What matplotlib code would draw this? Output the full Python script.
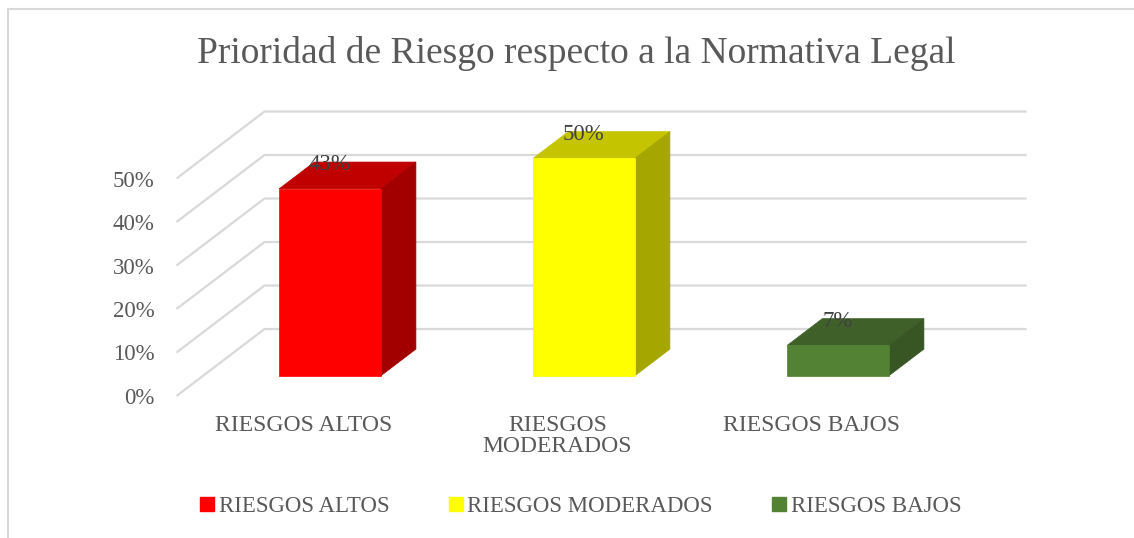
import matplotlib
matplotlib.use("Agg")
import matplotlib.pyplot as plt
from matplotlib.patches import Polygon, Rectangle
from matplotlib.lines import Line2D

plt.rcParams['font.family'] = ['Liberation Serif', 'DejaVu Serif']

# data
categories = ['RIESGOS ALTOS', 'RIESGOS\nMODERADOS', 'RIESGOS BAJOS']
legend_names = ['RIESGOS ALTOS', 'RIESGOS MODERADOS', 'RIESGOS BAJOS']
values = [43, 50, 7]
value_labels = ['43%', '50%', '7%']
y_ticks = [0, 10, 20, 30, 40, 50]
y_tick_labels = ['0%', '10%', '20%', '30%', '40%', '50%']

front_col = ['#FF0000', '#FFFF00', '#548235']
top_col = ['#C00000', '#C4C400', '#3F6129']
side_col = ['#A20000', '#A6A600', '#375623']
grid_col = '#D9D9D9'
text_col = '#595959'

# fake 3d: depth offset of the back wall in data units
ddx, ddy = 0.3465, 15.4
bar_w = 0.40
d0, d1 = 0.3, 0.7   # bar starts/ends at this fraction of depth

fig = plt.figure(figsize=(11.34, 5.38), dpi=100)
ax = fig.add_axes([176.5 / 1134, 1 - 396 / 538, 889 / 1134, 304.5 / 538])
ax.set_xlim(-0.5, 3.0)
ax.set_ylim(0, 70)
for s in ax.spines.values():
    s.set_visible(False)

# left wall + back wall gridlines
for t in y_ticks:
    ax.plot([-0.5, -0.5 + ddx, 2.5 + ddx], [t, t + ddy, t + ddy],
            color=grid_col, lw=1.6, zorder=1, clip_on=False, solid_capstyle='butt')

xs = list(range(len(values)))
for i, v in enumerate(values):
    x0 = xs[i] - bar_w / 2 + d0 * ddx
    y0 = d0 * ddy
    ox = (d1 - d0) * ddx
    oy = (d1 - d0) * ddy
    x1 = x0 + bar_w
    top = [(x0, y0 + v), (x1, y0 + v), (x1 + ox, y0 + v + oy), (x0 + ox, y0 + v + oy)]
    side = [(x1, y0), (x1 + ox, y0 + oy), (x1 + ox, y0 + v + oy), (x1, y0 + v)]
    ax.add_patch(Polygon(top, closed=True, fc=top_col[i], ec=top_col[i], lw=0.5, zorder=2, clip_on=False))
    ax.add_patch(Polygon(side, closed=True, fc=side_col[i], ec=side_col[i], lw=0.5, zorder=2, clip_on=False))

ax.bar([x + d0 * ddx for x in xs], values, width=bar_w, bottom=d0 * ddy,
       color=front_col, edgecolor=front_col, lw=0.5, zorder=3, clip_on=False)

for i, v in enumerate(values):
    ax.text(xs[i] + d0 * ddx, v + d1 * ddy - 0.6, value_labels[i], ha='center', va='center',
            fontsize=16.5, color='#404040', zorder=5)

ax.set_yticks(y_ticks)
ax.set_yticklabels(y_tick_labels)
ax.set_xticks(xs)
ax.set_xticklabels(categories, linespacing=1.0)
ax.tick_params(axis='y', length=0, pad=16, labelsize=16.5, labelcolor=text_col)
ax.tick_params(axis='x', length=0, pad=14, labelsize=17, labelcolor=text_col)

fig.text(576 / 1134, 1 - 63.3 / 538, 'Prioridad de Riesgo respecto a la Normativa Legal',
         ha='center', va='baseline', fontsize=27, color=text_col)

handles = [Line2D([], [], ls='', marker='s', markersize=10, color=c) for c in front_col]
fig.legend(handles, legend_names, loc='center', bbox_to_anchor=(581 / 1134, 1 - 506 / 538),
           ncol=3, frameon=False, fontsize=16.5, labelcolor=text_col,
           handlelength=0.6, handletextpad=0.2, columnspacing=2.6)

fig.patches.append(Rectangle((7.5 / 1134, -0.1), 1.2, 1.1 - 9.5 / 538, transform=fig.transFigure,
                             fill=False, ec=grid_col, lw=1.5))

fig.savefig('out.png', dpi=100, facecolor='white')
